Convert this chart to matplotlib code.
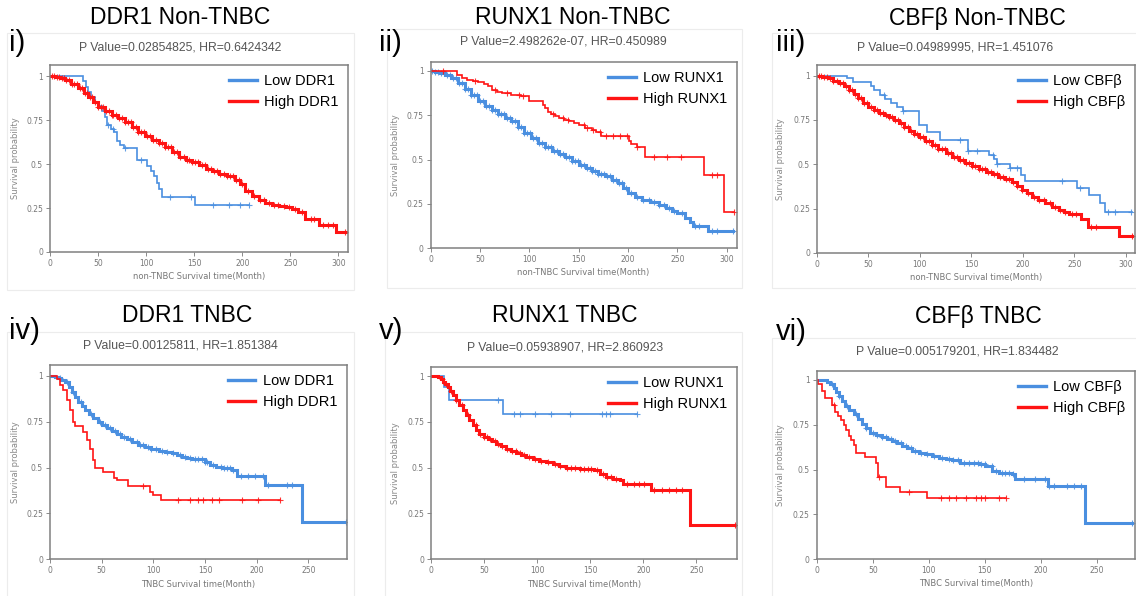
import numpy as np
import matplotlib
matplotlib.use("Agg")
import matplotlib.pyplot as plt
from matplotlib.patches import Rectangle
from matplotlib.lines import Line2D

# ---- data (time in months, survival probability) ----
# i) DDR1 Non-TNBC
low_ddr1_nt_t = [0, 34, 37, 40, 43, 47, 50, 54, 57, 59, 63, 67, 70, 73, 77, 91, 101, 105, 108, 111, 113, 116, 151, 207]
low_ddr1_nt_s = [1.0, 0.97, 0.94, 0.91, 0.88, 0.85, 0.83, 0.80, 0.77, 0.72, 0.70, 0.68, 0.63, 0.61, 0.59, 0.525, 0.49, 0.46, 0.43, 0.39, 0.36, 0.315, 0.265, 0.265]
low_ddr1_nt_c = [60, 66, 78, 95, 125, 147, 170, 186, 198, 207]
high_ddr1_nt_t = [0, 5, 10, 16, 22, 29, 35, 40, 45, 50, 57, 64, 71, 78, 85, 92, 99, 106, 113, 120, 127, 134, 141, 148, 155, 162, 169, 176, 184, 192, 198, 203, 210, 217, 224, 231, 238, 245, 252, 258, 265, 280, 298, 308]
high_ddr1_nt_s = [1.0, 0.995, 0.988, 0.977, 0.955, 0.93, 0.905, 0.882, 0.855, 0.825, 0.80, 0.778, 0.76, 0.74, 0.71, 0.683, 0.66, 0.636, 0.618, 0.598, 0.57, 0.54, 0.525, 0.51, 0.493, 0.474, 0.46, 0.446, 0.43, 0.41, 0.385, 0.345, 0.32, 0.294, 0.28, 0.266, 0.26, 0.256, 0.245, 0.228, 0.185, 0.155, 0.114, 0.114]
high_ddr1_nt_c = [2, 4, 7, 9, 12, 15, 17, 20, 23, 25, 28, 31, 33, 36, 39, 42, 44, 47, 50, 53, 55, 58, 61, 64, 66, 69, 72, 75, 78, 81, 84, 86, 89, 92, 95, 98, 101, 104, 107, 110, 113, 117, 120, 123, 126, 129, 132, 135, 139, 142, 145, 148, 151, 154, 158, 161, 164, 167, 171, 174, 177, 181, 184, 187, 190, 194, 197, 200, 206, 212, 218, 223, 228, 233, 237, 243, 249, 255, 262, 271, 275, 284, 289, 294, 307]

# ii) RUNX1 Non-TNBC
low_runx1_nt_t = [0, 5, 10, 15, 21, 28, 35, 41, 48, 55, 62, 68, 75, 82, 89, 95, 102, 109, 116, 123, 130, 136, 143, 150, 157, 163, 170, 177, 184, 190, 195, 200, 207, 214, 222, 231, 238, 244, 250, 258, 263, 266, 281, 306]
low_runx1_nt_s = [1.0, 0.995, 0.99, 0.979, 0.96, 0.932, 0.90, 0.866, 0.83, 0.80, 0.777, 0.757, 0.737, 0.716, 0.685, 0.65, 0.622, 0.594, 0.572, 0.55, 0.532, 0.513, 0.492, 0.472, 0.452, 0.434, 0.42, 0.406, 0.387, 0.368, 0.34, 0.312, 0.292, 0.274, 0.26, 0.246, 0.23, 0.212, 0.20, 0.17, 0.15, 0.125, 0.10, 0.10]
low_runx1_nt_c = [2, 5, 8, 11, 14, 17, 20, 23, 26, 29, 32, 35, 38, 41, 44, 47, 50, 53, 56, 59, 62, 65, 68, 71, 74, 77, 80, 83, 86, 89, 92, 95, 98, 101, 104, 107, 110, 113, 116, 119, 122, 125, 128, 131, 134, 137, 140, 143, 146, 149, 152, 155, 158, 161, 164, 167, 170, 173, 176, 179, 182, 185, 188, 191, 194, 198, 203, 209, 215, 221, 226, 231, 236, 241, 247, 255, 268, 272, 285, 290, 306]
high_runx1_nt_t = [0, 27, 32, 37, 43, 48, 54, 58, 62, 67, 72, 82, 92, 100, 114, 116, 119, 122, 126, 130, 135, 140, 145, 150, 156, 163, 168, 173, 201, 203, 209, 217, 277, 297, 307]
high_runx1_nt_s = [1.0, 0.975, 0.96, 0.951, 0.945, 0.938, 0.925, 0.914, 0.89, 0.88, 0.874, 0.866, 0.857, 0.831, 0.81, 0.79, 0.77, 0.757, 0.745, 0.735, 0.725, 0.716, 0.705, 0.694, 0.679, 0.665, 0.655, 0.632, 0.603, 0.59, 0.57, 0.513, 0.412, 0.205, 0.205]
high_runx1_nt_c = [13, 45, 65, 77, 90, 94, 124, 134, 139, 155, 158, 165, 172, 178, 185, 192, 199, 209, 226, 239, 254, 285, 290, 307]

# iii) CBFb Non-TNBC
low_cbfb_nt_t = [0, 29, 35, 52, 55, 61, 66, 72, 78, 84, 99, 107, 120, 147, 167, 172, 175, 188, 198, 202, 253, 264, 275, 280, 306]
low_cbfb_nt_s = [1.0, 0.985, 0.966, 0.94, 0.92, 0.89, 0.866, 0.847, 0.823, 0.80, 0.722, 0.684, 0.637, 0.577, 0.553, 0.528, 0.502, 0.477, 0.44, 0.408, 0.365, 0.327, 0.28, 0.233, 0.233]
low_cbfb_nt_c = [65, 84, 139, 147, 155, 171, 175, 188, 194, 238, 256, 283, 290, 305]
high_cbfb_nt_t = [0, 5, 11, 16, 21, 26, 31, 36, 40, 45, 50, 55, 60, 65, 70, 75, 80, 85, 89, 94, 99, 105, 112, 118, 125, 131, 138, 144, 151, 157, 164, 170, 176, 183, 189, 194, 199, 204, 209, 215, 222, 228, 235, 240, 245, 257, 263, 293, 306]
high_cbfb_nt_s = [1.0, 0.993, 0.985, 0.972, 0.957, 0.94, 0.919, 0.895, 0.872, 0.848, 0.825, 0.805, 0.788, 0.776, 0.765, 0.75, 0.735, 0.71, 0.69, 0.672, 0.656, 0.632, 0.609, 0.585, 0.562, 0.543, 0.525, 0.508, 0.491, 0.475, 0.459, 0.445, 0.43, 0.416, 0.402, 0.378, 0.355, 0.336, 0.318, 0.30, 0.28, 0.262, 0.243, 0.232, 0.22, 0.19, 0.144, 0.096, 0.096]
high_cbfb_nt_c = [2, 4, 7, 10, 13, 16, 19, 22, 25, 28, 31, 34, 37, 40, 43, 46, 49, 52, 55, 58, 61, 64, 67, 70, 73, 76, 79, 82, 85, 88, 91, 94, 97, 100, 103, 106, 109, 112, 115, 118, 121, 124, 127, 130, 133, 136, 139, 142, 145, 148, 151, 154, 157, 160, 163, 166, 169, 172, 175, 178, 181, 184, 187, 190, 194, 199, 205, 211, 216, 221, 226, 231, 236, 241, 248, 252, 266, 271, 306]

# iv) DDR1 TNBC
low_ddr1_t_t = [0, 5, 8, 11, 14.5, 18, 21, 24, 27.4, 31, 34, 38, 42, 46, 50, 55, 60, 65, 69, 74, 79, 85, 92, 98, 105, 111, 118, 123, 128, 133, 137, 150, 155, 161, 166, 176, 181, 208, 244, 286]
low_ddr1_t_s = [1.0, 0.996, 0.99, 0.98, 0.969, 0.94, 0.914, 0.885, 0.86, 0.835, 0.815, 0.79, 0.769, 0.75, 0.733, 0.718, 0.702, 0.685, 0.669, 0.655, 0.64, 0.625, 0.611, 0.60, 0.593, 0.585, 0.578, 0.57, 0.56, 0.552, 0.545, 0.53, 0.514, 0.502, 0.496, 0.487, 0.454, 0.405, 0.202, 0.202]
low_ddr1_t_c = [10, 16, 22, 30, 40, 48, 53, 58, 63, 68, 72, 77, 84, 87, 90, 95, 98, 103, 108, 113, 119, 126, 131, 135, 140, 143, 147, 150, 152, 158, 165, 168, 171, 174, 177, 185, 192, 198, 206, 211, 229, 234, 286]
high_ddr1_t_t = [0, 6.5, 9.5, 13, 16, 19.4, 22.6, 24.2, 32, 35.5, 38.7, 42, 44, 51, 62, 65, 75.8, 96.5, 100, 107, 222]
high_ddr1_t_s = [1.0, 0.985, 0.95, 0.924, 0.87, 0.815, 0.751, 0.728, 0.697, 0.651, 0.60, 0.542, 0.498, 0.478, 0.444, 0.431, 0.398, 0.369, 0.351, 0.326, 0.326]
high_ddr1_t_c = [90, 124, 135.5, 143.5, 148, 156.5, 163, 185.5, 201.6, 222]

# v) RUNX1 TNBC
low_runx1_t_t = [0, 12, 17, 67.6, 194]
low_runx1_t_s = [1.0, 0.938, 0.868, 0.795, 0.795]
low_runx1_t_c = [63, 78.5, 84, 98, 113, 131, 161, 165, 169, 194]
high_runx1_t_t = [0, 3, 6.3, 9, 11, 13, 15.7, 18, 20.5, 23.5, 26.7, 30, 33, 36, 39.3, 42.5, 45.6, 49.5, 53.5, 57.5, 61.3, 66, 70.8, 75.5, 80.2, 85, 89.6, 96, 102, 108, 114.8, 121, 127.4, 140, 154, 158.8, 165, 171, 177.6, 180.8, 207.5, 243.7, 286]
high_runx1_t_s = [1.0, 0.998, 0.993, 0.985, 0.967, 0.955, 0.94, 0.918, 0.894, 0.868, 0.84, 0.812, 0.786, 0.758, 0.731, 0.707, 0.685, 0.67, 0.655, 0.643, 0.631, 0.618, 0.604, 0.593, 0.582, 0.57, 0.558, 0.547, 0.535, 0.529, 0.522, 0.51, 0.498, 0.494, 0.49, 0.466, 0.449, 0.44, 0.431, 0.412, 0.376, 0.185, 0.185]
high_runx1_t_c = [10, 14, 19, 24, 29, 35, 42, 46, 50, 53, 56, 60, 63, 67, 72, 76, 80, 84, 88, 92, 98, 104, 110, 117, 122, 128, 132, 136, 140, 144, 148, 151, 156, 162, 166, 170, 174, 185, 191, 196, 201, 210, 218, 224, 231, 236, 286]

# vi) CBFb TNBC
low_cbfb_t_t = [0, 9, 12, 15, 17.5, 19.6, 22.5, 25.6, 29, 33, 36.5, 40.4, 44, 48, 53, 58, 63, 67, 72, 76, 81, 85, 91, 97, 103, 109, 115, 121, 128, 145, 150.5, 156.5, 162.5, 174.4, 177.3, 206, 239.8, 281.5]
low_cbfb_t_s = [1.0, 0.99, 0.975, 0.957, 0.935, 0.911, 0.883, 0.855, 0.83, 0.809, 0.78, 0.753, 0.73, 0.706, 0.695, 0.684, 0.672, 0.66, 0.646, 0.632, 0.618, 0.604, 0.595, 0.586, 0.576, 0.567, 0.56, 0.554, 0.535, 0.53, 0.52, 0.492, 0.483, 0.474, 0.446, 0.409, 0.204, 0.204]
low_cbfb_t_c = [14, 20, 27, 35, 44, 50, 54, 58, 62, 66, 70, 75, 80, 84, 88, 93, 98, 105, 112, 118, 122, 126, 131, 136, 140, 144, 147, 150, 156, 160, 165, 168, 172, 175, 185, 195, 204, 207, 212, 223, 230, 236, 281.5]
high_cbfb_t_t = [0, 1, 5, 7.5, 14, 16, 19, 22, 24, 26, 28.5, 31, 33, 35, 43, 53, 55, 62, 74, 98, 169]
high_cbfb_t_s = [1.0, 0.975, 0.94, 0.90, 0.86, 0.82, 0.80, 0.775, 0.75, 0.72, 0.69, 0.665, 0.635, 0.59, 0.57, 0.535, 0.46, 0.405, 0.375, 0.344, 0.344]
high_cbfb_t_c = [15, 56, 82, 111, 118, 124, 133, 142, 147, 150, 163, 169]

titles = ["DDR1 Non-TNBC", "RUNX1 Non-TNBC", "CBFβ Non-TNBC", "DDR1 TNBC", "RUNX1 TNBC", "CBFβ TNBC"]
romans = ["i)", "ii)", "iii)", "iv)", "v)", "vi)"]
pvals = ["P Value=0.02854825, HR=0.6424342", "P Value=2.498262e-07, HR=0.450989",
         "P Value=0.04989995, HR=1.451076", "P Value=0.00125811, HR=1.851384",
         "P Value=0.05938907, HR=2.860923", "P Value=0.005179201, HR=1.834482"]
genes = ["DDR1", "RUNX1", "CBFβ", "DDR1", "RUNX1", "CBFβ"]
xlabels = ["non-TNBC Survival time(Month)"] * 3 + ["TNBC Survival time(Month)"] * 3

curves = [
    (low_ddr1_nt_t, low_ddr1_nt_s, low_ddr1_nt_c, high_ddr1_nt_t, high_ddr1_nt_s, high_ddr1_nt_c),
    (low_runx1_nt_t, low_runx1_nt_s, low_runx1_nt_c, high_runx1_nt_t, high_runx1_nt_s, high_runx1_nt_c),
    (low_cbfb_nt_t, low_cbfb_nt_s, low_cbfb_nt_c, high_cbfb_nt_t, high_cbfb_nt_s, high_cbfb_nt_c),
    (low_ddr1_t_t, low_ddr1_t_s, low_ddr1_t_c, high_ddr1_t_t, high_ddr1_t_s, high_ddr1_t_c),
    (low_runx1_t_t, low_runx1_t_s, low_runx1_t_c, high_runx1_t_t, high_runx1_t_s, high_runx1_t_c),
    (low_cbfb_t_t, low_cbfb_t_s, low_cbfb_t_c, high_cbfb_t_t, high_cbfb_t_s, high_cbfb_t_c),
]
# which curve in each panel is the dense (large group) one
dense = [(False, True), (True, False), (False, True), (True, False), (False, True), (True, False)]

# ---- layout (pixel positions in a 1136x596 canvas) ----
W, H = 1136, 596
axes_px = [(50, 65, 348, 252), (430.5, 61.7, 736.7, 248.3), (817, 65, 1135, 253),
           (50, 365, 346.7, 559.3), (431, 366.7, 736.7, 559.3), (816.7, 371, 1135, 559.3)]
xmax = [310, 310, 309, 287, 288, 284]
ymax = [1.063, 1.052, 1.06, 1.06, 1.051, 1.05]
title_px = [(180, 18), (573, 18), (977, 18), (187, 316), (565, 316), (978, 316)]
roman_px = [(9, 43), (379, 43), (776, 43), (9, 331), (379, 331), (776, 332)]
pval_px = [(180, 47), (563, 42), (955, 47), (180, 345), (565, 347), (957, 352)]
frame_px = [(7, 33, 354, 290), (387, 29, 742, 288), (772, 33, 1140, 288),
            (7, 332, 354, 600), (385, 332, 742, 600), (772, 338, 1140, 600)]

BLUE = "#4a8fe0"
RED = "#ff1414"
GRAY = "#808080"


def fx(x, y):
    return x / W, 1 - y / H


def km(ax, t, s, c, color, lw):
    t = np.asarray(t, float)
    s = np.asarray(s, float)
    ax.step(t, s, where="post", color=color, lw=lw, solid_joinstyle="miter")
    c = np.asarray(c, float)
    cy = s[np.searchsorted(t, c, side="right") - 1]
    ax.plot(c, cy, ls="none", marker="+", ms=4.5, mew=0.8, color=color, alpha=0.85)


fig = plt.figure(figsize=(W / 100, H / 100), dpi=100)
fig.patch.set_facecolor("white")

for i in range(6):
    x0, y0, x1, y1 = frame_px[i]
    fig.patches.append(Rectangle(fx(x0, y1), (x1 - x0) / W, (y1 - y0) / H,
                                 transform=fig.transFigure, fill=False,
                                 edgecolor="#ececec", lw=0.8))

    l, t_, r, b = axes_px[i]
    ax = fig.add_axes([l / W, 1 - b / H, (r - l) / W, (b - t_) / H])
    lt, ls_, lc, ht, hs, hc = curves[i]
    km(ax, lt, ls_, lc, BLUE, 2.2 if dense[i][0] else 1.2)
    km(ax, ht, hs, hc, RED, 2.2 if dense[i][1] else 1.2)

    ax.set_xlim(0, xmax[i])
    ax.set_ylim(0, ymax[i])
    ax.set_xticks(np.arange(0, xmax[i], 50))
    ax.set_yticks([0, 0.25, 0.5, 0.75, 1])
    ax.set_yticklabels(["0", "0.25", "0.5", "0.75", "1"])
    ax.tick_params(labelsize=5.5, colors="#777777", length=3, width=0.6, pad=2)
    for sp in ax.spines.values():
        sp.set_color(GRAY)
        sp.set_linewidth(1.1)
    ax.set_ylabel("Survival probability", fontsize=6, color="#888888")
    ax.yaxis.set_label_coords(-0.1, 0.5)
    ax.set_xlabel(xlabels[i], fontsize=6, color="#777777", va="center")
    ax.xaxis.set_label_coords(0.5, -0.13)

    handles = [Line2D([], [], color=BLUE, lw=2.4), Line2D([], [], color=RED, lw=2.4)]
    ax.legend(handles, ["Low " + genes[i], "High " + genes[i]], loc="upper right",
              bbox_to_anchor=(1.0, 1.0), frameon=False,
              handlelength=1.9, handletextpad=0.5, labelspacing=0.45,
              borderaxespad=0.35, borderpad=0.3,
              prop={"family": "Liberation Sans", "size": 10.5})

    fig.text(*fx(*title_px[i]), titles[i], ha="center", va="center",
             fontsize=16.5, family="Liberation Sans")
    fig.text(*fx(*roman_px[i]), romans[i], ha="left", va="center",
             fontsize=21, family="Liberation Sans")
    fig.text(*fx(*pval_px[i]), pvals[i], ha="center", va="center",
             fontsize=8.8, color="#555555", family="Liberation Sans")

fig.savefig("out.png", dpi=100, facecolor="white")
